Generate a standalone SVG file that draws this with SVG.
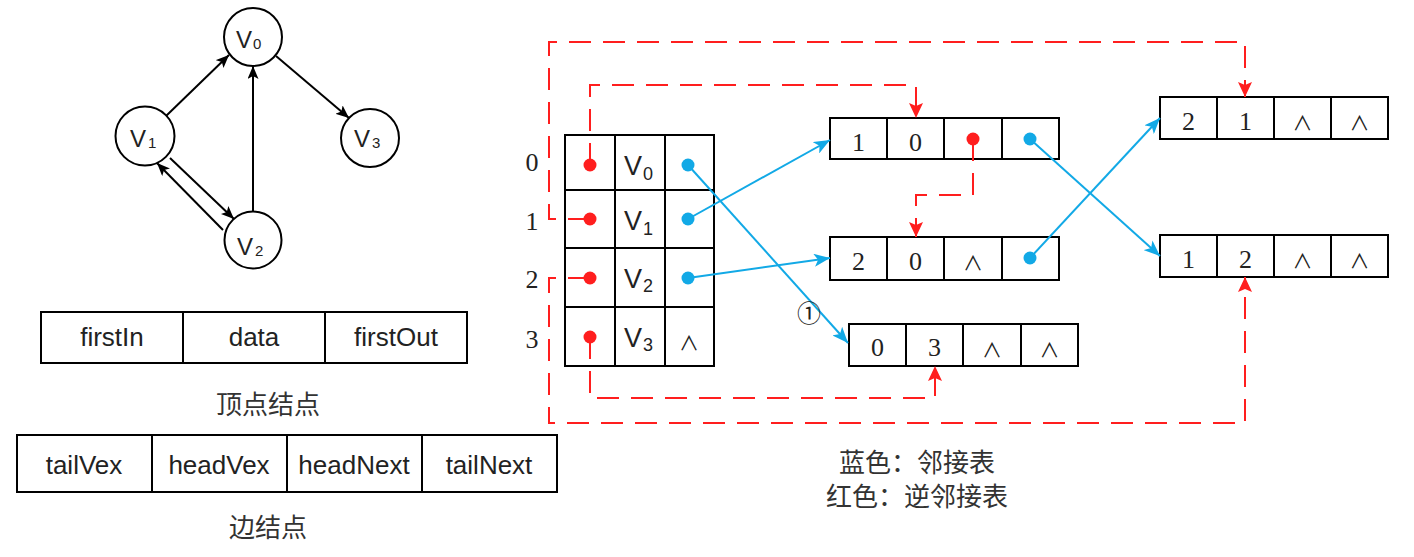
<svg xmlns="http://www.w3.org/2000/svg" width="1414" height="557" viewBox="0 0 1414 557">
<style>
.bx{fill:#fff;stroke:#000;stroke-width:2}
.cl{fill:none;stroke:#000;stroke-width:2}
.lbl{font-family:"Liberation Sans",Arial,sans-serif;fill:#222;text-anchor:middle}
.sv{font-family:"Liberation Sans",Arial,sans-serif;fill:#222}
.num{font-family:"Liberation Serif","Times New Roman",serif;font-size:26px;fill:#222;text-anchor:middle}
.nil{font-family:"Noto Sans CJK SC",sans-serif;font-size:20px;fill:#222;text-anchor:middle}
.cjk{font-family:"Noto Sans CJK SC",sans-serif;font-size:26px;fill:#333;text-anchor:middle}
.edge{fill:none;stroke:#000;stroke-width:2}
.blue{fill:none;stroke:#12A9E6;stroke-width:2}
.red{fill:none;stroke:#FF1E1E;stroke-width:2;stroke-dasharray:22 12}
.rd{fill:#FF1E1E}
.bd{fill:#12A9E6}
</style>
<defs>
<marker id="ab" markerUnits="userSpaceOnUse" markerWidth="14" markerHeight="11" refX="13" refY="5.5" orient="auto"><path d="M0,0 L13,5.5 L0,11 L3,5.5 z" fill="#000"/></marker>
<marker id="abl" markerUnits="userSpaceOnUse" markerWidth="17" markerHeight="13" refX="16" refY="6.5" orient="auto"><path d="M0,0 L16,6.5 L0,13 L4,6.5 z" fill="#12A9E6"/></marker>
<marker id="ar" markerUnits="userSpaceOnUse" markerWidth="16" markerHeight="14" refX="15" refY="7" orient="auto"><path d="M0,0 L15,7 L0,14 L3,7 z" fill="#FF1E1E"/></marker>
</defs>
<rect width="1414" height="557" fill="#fff"/>

<!-- graph nodes -->
<g id="gV0"><circle class="cl" cx="253" cy="37" r="29"/><text class="sv" x="236" y="48" font-size="24">V</text><text class="sv" x="253" y="49" font-size="15">0</text></g>
<g id="gV1"><circle class="cl" cx="145" cy="136" r="29.5"/><text class="sv" x="130" y="147" font-size="24">V</text><text class="sv" x="148" y="148" font-size="15">1</text></g>
<g id="gV3"><circle class="cl" cx="370" cy="138" r="29"/><text class="sv" x="354" y="147" font-size="24">V</text><text class="sv" x="372" y="148" font-size="15">3</text></g>
<g id="gV2"><circle class="cl" cx="253" cy="240" r="28.5"/><text class="sv" x="237" y="255" font-size="24">V</text><text class="sv" x="255" y="256" font-size="15">2</text></g>

<g id="graph-edges">
<line class="edge" x1="166" y1="116" x2="229" y2="55" marker-end="url(#ab)"/>
<line class="edge" x1="253" y1="211" x2="253" y2="66" marker-end="url(#ab)"/>
<line class="edge" x1="276" y1="56" x2="349" y2="118" marker-end="url(#ab)"/>
<line class="edge" x1="170" y1="158" x2="234" y2="219" marker-end="url(#ab)"/>
<line class="edge" x1="223" y1="230" x2="157" y2="163" marker-end="url(#ab)"/>
</g>

<!-- vertex node struct -->
<g id="vertexStruct">
<rect class="bx" x="41" y="312" width="142" height="51"/>
<rect class="bx" x="183" y="312" width="142" height="51"/>
<rect class="bx" x="325" y="312" width="142" height="51"/>
<text class="lbl" x="112" y="346" font-size="26">firstIn</text>
<text class="lbl" x="254" y="346" font-size="26">data</text>
<text class="lbl" x="396" y="346" font-size="26">firstOut</text>
<text class="cjk" x="268" y="414">顶点结点</text>
</g>

<!-- edge node struct -->
<g id="edgeStruct">
<rect class="bx" x="17" y="435" width="135" height="57"/>
<rect class="bx" x="152" y="435" width="135" height="57"/>
<rect class="bx" x="287" y="435" width="135" height="57"/>
<rect class="bx" x="422" y="435" width="135" height="57"/>
<text class="lbl" x="84" y="474" font-size="26">tailVex</text>
<text class="lbl" x="219" y="474" font-size="26">headVex</text>
<text class="lbl" x="354" y="474" font-size="26">headNext</text>
<text class="lbl" x="489" y="474" font-size="26">tailNext</text>
<text class="cjk" x="268" y="537">边结点</text>
</g>

<!-- vertex table -->
<g id="vertexTable">
<rect class="bx" x="565" y="135" width="50" height="55"/><rect class="bx" x="615" y="135" width="50" height="55"/><rect class="bx" x="665" y="135" width="49" height="55"/>
<rect class="bx" x="565" y="190" width="50" height="58"/><rect class="bx" x="615" y="190" width="50" height="58"/><rect class="bx" x="665" y="190" width="49" height="58"/>
<rect class="bx" x="565" y="248" width="50" height="59"/><rect class="bx" x="615" y="248" width="50" height="59"/><rect class="bx" x="665" y="248" width="49" height="59"/>
<rect class="bx" x="565" y="307" width="50" height="59"/><rect class="bx" x="615" y="307" width="50" height="59"/><rect class="bx" x="665" y="307" width="49" height="59"/>
<text class="num" x="532" y="171">0</text>
<text class="num" x="532" y="230">1</text>
<text class="num" x="532" y="288">2</text>
<text class="num" x="532" y="348">3</text>
<text class="sv" x="624" y="175" font-size="27">V</text><text class="sv" x="643" y="180" font-size="18">0</text>
<text class="sv" x="624" y="230" font-size="27">V</text><text class="sv" x="643" y="235" font-size="18" fill="#1a3a6a">1</text>
<text class="sv" x="624" y="288" font-size="27">V</text><text class="sv" x="643" y="292" font-size="18">2</text>
<text class="sv" x="624" y="347" font-size="27">V</text><text class="sv" x="643" y="351" font-size="18">3</text>
<text class="nil" x="689" y="351">∧</text>
</g>

<!-- edge nodes -->
<g id="nodeA">
<rect class="bx" x="830" y="118" width="57" height="41"/><rect class="bx" x="887" y="118" width="57" height="41"/><rect class="bx" x="944" y="118" width="58" height="41"/><rect class="bx" x="1002" y="118" width="57" height="41"/>
<text class="num" x="858.5" y="151">1</text><text class="num" x="915.5" y="151">0</text>
</g>
<g id="nodeB">
<rect class="bx" x="830" y="237" width="57" height="43"/><rect class="bx" x="887" y="237" width="57" height="43"/><rect class="bx" x="944" y="237" width="58" height="43"/><rect class="bx" x="1002" y="237" width="57" height="43"/>
<text class="num" x="858.5" y="270">2</text><text class="num" x="915.5" y="270">0</text><text class="nil" x="973" y="271">∧</text>
</g>
<g id="nodeC">
<rect class="bx" x="849" y="324" width="57" height="42"/><rect class="bx" x="906" y="324" width="57" height="42"/><rect class="bx" x="963" y="324" width="58" height="42"/><rect class="bx" x="1021" y="324" width="57" height="42"/>
<text class="num" x="877.5" y="356">0</text><text class="num" x="934.5" y="356">3</text><text class="nil" x="992" y="358">∧</text><text class="nil" x="1049.5" y="358">∧</text>
</g>
<g id="nodeD">
<rect class="bx" x="1160" y="97" width="57" height="42"/><rect class="bx" x="1217" y="97" width="57" height="42"/><rect class="bx" x="1274" y="97" width="57" height="42"/><rect class="bx" x="1331" y="97" width="57" height="42"/>
<text class="num" x="1188.5" y="130">2</text><text class="num" x="1245.5" y="130">1</text><text class="nil" x="1302.5" y="131">∧</text><text class="nil" x="1359.5" y="131">∧</text>
</g>
<g id="nodeE">
<rect class="bx" x="1160" y="235" width="57" height="42"/><rect class="bx" x="1217" y="235" width="57" height="42"/><rect class="bx" x="1274" y="235" width="57" height="42"/><rect class="bx" x="1331" y="235" width="57" height="42"/>
<text class="num" x="1188.5" y="268">1</text><text class="num" x="1245.5" y="268">2</text><text class="nil" x="1302.5" y="269">∧</text><text class="nil" x="1359.5" y="269">∧</text>
</g>

<!-- connectors -->
<g id="connectors">
<path class="red" d="M590,165 V85 H916 V118" marker-end="url(#ar)"/>
<path class="red" d="M590,219 H549 V42 H1245 V97" marker-end="url(#ar)"/>
<path class="red" d="M590,278 H549 V423 H1245 V277" marker-end="url(#ar)"/>
<path class="red" d="M590,337 V398 H935 V366" marker-end="url(#ar)"/>
<path class="red" d="M973,139 V195 H916 V237" marker-end="url(#ar)"/>
<line class="blue" x1="688" y1="165" x2="848" y2="343" marker-end="url(#abl)"/>
<line class="blue" x1="688" y1="219" x2="830" y2="140" marker-end="url(#abl)"/>
<line class="blue" x1="688" y1="278" x2="830" y2="258" marker-end="url(#abl)"/>
<line class="blue" x1="1030" y1="139" x2="1160" y2="256" marker-end="url(#abl)"/>
<line class="blue" x1="1030" y1="258" x2="1160" y2="118" marker-end="url(#abl)"/>
<circle class="rd" cx="590" cy="165" r="6.5"/>
<circle class="rd" cx="590" cy="219" r="6.5"/>
<circle class="rd" cx="590" cy="278" r="6.5"/>
<circle class="rd" cx="590" cy="337" r="6.5"/>
<circle class="rd" cx="973" cy="139" r="6.5"/>
<circle class="bd" cx="688" cy="165" r="6.5"/>
<circle class="bd" cx="688" cy="219" r="6.5"/>
<circle class="bd" cx="688" cy="278" r="6.5"/>
<circle class="bd" cx="1030" cy="139" r="6.5"/>
<circle class="bd" cx="1030" cy="258" r="6.5"/>
<text x="809" y="322" font-family="Noto Sans CJK SC,sans-serif" font-size="24" fill="#222" text-anchor="middle">①</text>
</g>

<g id="legend">
<text class="cjk" x="917" y="472">蓝色：邻接表</text>
<text class="cjk" x="917" y="506">红色：逆邻接表</text>
</g>
</svg>
